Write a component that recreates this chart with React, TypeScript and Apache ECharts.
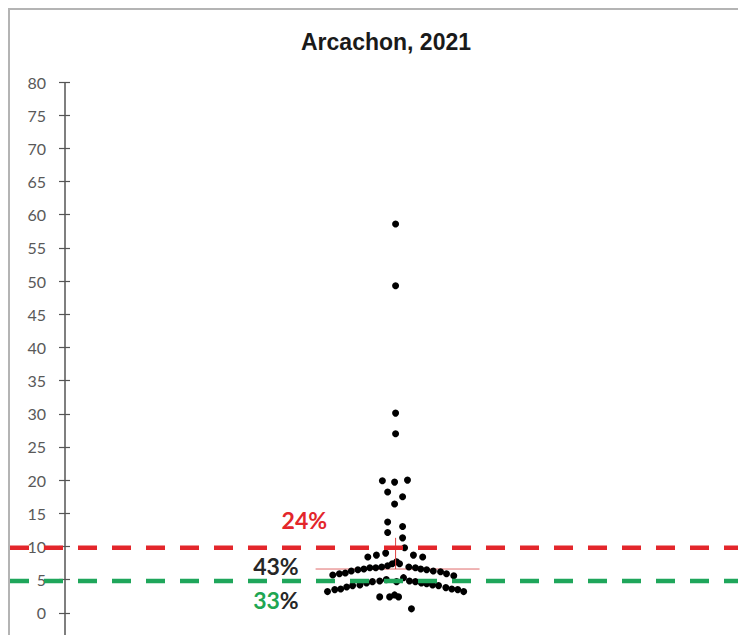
import React, { useEffect, useRef } from "react";
import * as echarts from "echarts";

// ---- Data ----
const chartTitle = "Arcachon, 2021";

// beeswarm: horizontal jitter slot and measured value
const swarmOffsets = [
  0, 0, 0, 0,
  -2.0, -0.15, 1.8,
  -1.2, 1.06, -0.15,
  -1.2, 1.06, -1.2, 1.06,
  1.36,
  -4.2, -2.9, -1.5, 2.7, 4.1,
  -0.5, 0.15, 0.6,
  -9.5, -8.5, -7.6, -6.7, -5.7, -4.8, -3.9, -3.0, -2.1, -1.2,
  2.0, 3.0, 3.8, 4.7, 5.7, 6.8, 7.7, 8.8,
  -10.3, -9.2, -8.3, -7.4, -6.5, -5.4, -4.4, -3.5, -2.4, -1.4, 0.15,
  1.2, 2.1, 3.0, 3.9, 4.7, 5.6, 6.5, 7.6, 8.5, 9.4, 10.3,
  -2.4, -0.9, -0.15, 0.45,
  2.4,
];
const swarmValues = [
  58.6, 49.3, 30.1, 27.0,
  19.9, 19.7, 20.0,
  18.2, 17.5, 16.4,
  13.7, 13.0, 12.1, 11.3,
  9.8,
  8.4, 8.7, 9.0, 8.7, 8.4,
  7.4, 7.7, 7.4,
  5.7, 5.9, 6.0, 6.3, 6.5, 6.6, 6.8, 6.8, 6.9, 7.1,
  6.9, 6.8, 6.6, 6.5, 6.3, 6.2, 5.9, 5.6,
  3.2, 3.5, 3.6, 3.9, 4.1, 4.2, 4.5, 4.7, 4.8, 5.0, 4.7,
  5.3, 4.8, 4.7, 4.5, 4.4, 4.2, 4.1, 3.8, 3.6, 3.5, 3.2,
  2.4, 2.4, 2.7, 2.4,
  0.6,
];

const thresholdHigh = 9.8;
const thresholdLow = 4.8;
const medianValue = 6.6;
const medianSpan = [-12.1, 12.7];
const errorBarRange = [6.6, 11.3];

const shareTexts = ["24%", "43%", "33%"];
const shareOffsets = [-13.8, -18.1, -18.1];
const shareValues = [14.0, 7.1, 2.0];

const xMin = -50;
const xMax = 53;
const yMin = -5;
const yMax = 80;
const yInterval = 5;

export default function App() {
  const ref = useRef<HTMLDivElement>(null);

  useEffect(() => {
    if (!ref.current) return;
    const chart = echarts.init(ref.current, null, { renderer: "svg" });

    const swarm = swarmValues.map((v, i) => [swarmOffsets[i], v]);
    const labelFormats = [
      "{r|" + shareTexts[0] + "}",
      "{k|" + shareTexts[1] + "}",
      "{g|" + shareTexts[2].replace("%", "") + "}{k|%}",
    ];
    const labelData = shareTexts.map((t, i) => ({
      value: [shareOffsets[i], shareValues[i]],
      label: { formatter: labelFormats[i] },
    }));

    const axisGray = "#555555";
    const labelFont = "Lato, 'Noto Sans', sans-serif";
    chart.setOption({
      animation: false,
      grid: { left: 55, right: 0, top: 72, bottom: 44, containLabel: false },
      xAxis: { type: "value", min: xMin, max: xMax, show: false },
      yAxis: [
        {
          type: "value",
          min: yMin,
          max: yMax,
          interval: yInterval,
          position: "left",
          axisLine: { show: false, onZero: false },
          axisTick: { show: true, length: 6, lineStyle: { color: axisGray, width: 1.2 } },
          axisLabel: {
            margin: 19,
            color: "#595959",
            fontFamily: labelFont,
            fontSize: 16,
            formatter: (v: number) => (v < 0 ? "" : String(v)),
          },
          splitLine: { show: false },
        },
        {
          type: "value",
          min: yMin,
          max: yMax,
          interval: yInterval,
          position: "left",
          axisLine: { show: false, onZero: false },
          axisTick: { show: true, inside: true, length: 5, lineStyle: { color: axisGray, width: 1.2 } },
          axisLabel: { show: false },
          splitLine: { show: false },
        },
      ],
      series: [
        {
          type: "line",
          data: [
            [medianSpan[0], medianValue],
            [medianSpan[1], medianValue],
          ],
          symbol: "none",
          lineStyle: { color: "#e06a6a", width: 1 },
          z: 1,
          silent: true,
        },
        {
          type: "scatter",
          data: swarm,
          symbol: "circle",
          symbolSize: 7,
          itemStyle: { color: "#000000", opacity: 1 },
          z: 2,
        },
        {
          type: "line",
          data: [
            [0, errorBarRange[0]],
            [0, errorBarRange[1]],
          ],
          symbol: "none",
          lineStyle: { color: "#e04040", width: 1 },
          z: 3,
          silent: true,
        },
        {
          type: "scatter",
          data: labelData,
          symbolSize: 0,
          itemStyle: { opacity: 1 },
          z: 5,
          label: {
            show: true,
            position: "inside",
            fontFamily: labelFont,
            fontSize: 23,
            fontWeight: "bold",
            opacity: 1,
            rich: {
              r: { color: "#e3262b", fontSize: 23, fontWeight: "bold", fontFamily: labelFont },
              k: { color: "#262626", fontSize: 23, fontWeight: "bold", fontFamily: labelFont },
              g: { color: "#1fa652", fontSize: 23, fontWeight: "bold", fontFamily: labelFont },
            },
          },
        },
      ],
    });

    const yHigh = chart.convertToPixel({ yAxisIndex: 0 }, thresholdHigh) as number;
    const yLow = chart.convertToPixel({ yAxisIndex: 0 }, thresholdLow) as number;
    const yTop = chart.convertToPixel({ yAxisIndex: 0 }, yMax) as number;
    const yBottom = chart.convertToPixel({ yAxisIndex: 0 }, yMin) as number;
    const xAxisPos = chart.convertToPixel({ xAxisIndex: 0 }, xMin) as number;
    const w = chart.getWidth();

    chart.setOption({
      graphic: [
        {
          type: "text",
          x: 376,
          y: 32,
          style: {
            text: chartTitle,
            fill: "#1a1a1a",
            fontFamily: "'Liberation Sans Narrow', 'Liberation Sans', Arial, sans-serif",
            fontWeight: "bold",
            fontSize: 23,
            textAlign: "center",
            textVerticalAlign: "middle",
          },
        },
        {
          type: "rect",
          z: 50,
          shape: { x: xAxisPos - 0.75, y: yTop, width: 1.5, height: yBottom - yTop },
          style: { fill: axisGray },
        },
        {
          type: "line",
          z: 100,
          shape: { x1: 0, y1: yHigh, x2: w, y2: yHigh },
          style: { stroke: "#e3262b", lineWidth: 4.5, lineDash: [19, 15] },
        },
        {
          type: "line",
          z: 100,
          shape: { x1: 0, y1: yLow, x2: w, y2: yLow },
          style: { stroke: "#1fa65b", lineWidth: 4.5, lineDash: [19, 15] },
        },
      ],
    });

    return () => chart.dispose();
  }, []);

  return (
    <div
      style={{
        width: 738,
        height: 627,
        overflow: "hidden",
        borderLeft: "2px solid #b4b4b4",
        borderTop: "2px solid #b4b4b4",
        boxSizing: "border-box",
        background: "#ffffff",
      }}
    >
      <div ref={ref} style={{ width: 736, height: 680 }} />
    </div>
  );
}
